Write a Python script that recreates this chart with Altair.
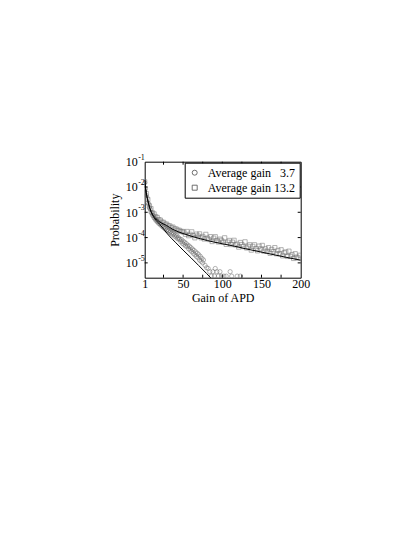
import altair as alt
import pandas as pd

# ---------------- data ----------------
LAB_A = "Average gain \u20073.7"
LAB_B = "Average gain 13.2"

# measured points, average gain 13.2 (squares)
sq_gain = list(range(1, 200, 2))
sq_prob = [
    1.6e-2, 5.5e-3, 3.2e-3, 1.8e-3, 1.4e-3, 9.5e-4, 8.6e-4, 6.8e-4, 6.2e-4, 5.1e-4,
    4.9e-4, 4.1e-4, 4.0e-4, 3.4e-4, 3.4e-4, 2.9e-4, 2.9e-4, 2.5e-4, 2.6e-4, 2.2e-4,
    2.2e-4, 1.95e-4, 1.95e-4, 1.75e-4, 1.75e-4,
    1.63e-4, 1.35e-4, 1.74e-4, 1.19e-4, 1.35e-4, 1.69e-4, 1.2e-4, 9.8e-5, 1.37e-4, 1.15e-4,
    1.4e-4, 9.8e-5, 1.11e-4, 8.8e-5, 1.34e-4, 9.6e-5, 8.4e-5, 1.09e-4, 7.0e-5, 9.5e-5,
    1.08e-4, 7.7e-5, 6.7e-5, 8.7e-5, 7.8e-5, 6.5e-5, 9.8e-5, 5.4e-5, 6.6e-5, 7.7e-5,
    5.3e-5, 6.6e-5, 7.8e-5, 5.1e-5, 5.5e-5, 4.2e-5, 6.4e-5, 5.3e-5, 4.4e-5, 6.8e-5,
    3.9e-5, 4.5e-5, 5.2e-5, 3.2e-5, 4.5e-5, 5.2e-5, 3.7e-5, 3.0e-5, 4.6e-5, 3.6e-5,
    4.9e-5, 2.9e-5, 3.6e-5, 2.9e-5, 4.0e-5, 2.4e-5, 3.4e-5, 2.8e-5, 4.0e-5, 2.3e-5,
    3.1e-5, 2.3e-5, 3.3e-5, 1.9e-5, 2.5e-5, 2.7e-5, 1.8e-5, 2.9e-5, 1.8e-5, 2.1e-5,
    1.5e-5, 2.3e-5, 1.7e-5, 1.55e-5, 2.0e-5,
]

# measured points, average gain 3.7 (circles)
ci_gain = list(range(1, 77)) + [78, 80, 82, 84, 86, 88, 90, 91, 93, 95, 97, 99,
                                 102, 105, 110, 112, 119, 123]
ci_prob = [
    1.5e-2, 8.5e-3, 4.6e-3, 3.7e-3, 2.4e-3, 2.1e-3, 1.5e-3, 1.35e-3, 1.0e-3, 9.5e-4,
    7.6e-4, 7.3e-4, 6.0e-4, 5.9e-4, 4.9e-4, 5.0e-4, 4.2e-4, 4.3e-4, 3.6e-4, 3.7e-4,
    3.2e-4, 3.4e-4, 2.8e-4, 3.0e-4, 2.5e-4, 2.7e-4, 2.2e-4, 2.4e-4, 1.95e-4, 2.1e-4,
    1.8e-4, 1.9e-4, 1.6e-4, 1.75e-4, 1.45e-4, 1.6e-4, 1.3e-4, 1.45e-4, 1.15e-4, 1.3e-4,
    1.05e-4, 1.2e-4, 9.0e-5, 1.0e-4, 8.5e-5, 8.8e-5, 7.0e-5, 8.3e-5, 6.0e-5, 7.2e-5,
    5.4e-5, 6.5e-5, 4.7e-5, 5.8e-5, 4.4e-5, 5.0e-5, 3.6e-5, 4.6e-5, 3.2e-5, 4.0e-5,
    2.8e-5, 3.5e-5, 2.4e-5, 3.1e-5, 2.1e-5, 2.7e-5, 1.8e-5, 2.4e-5, 1.6e-5, 2.1e-5,
    1.3e-5, 1.8e-5, 1.15e-5, 1.5e-5, 1.0e-5, 1.3e-5,
    8.0e-6, 6.5e-6, 6.0e-6, 4.5e-6, 3.0e-6, 4.5e-6, 3.0e-6, 6.0e-6, 4.5e-6, 3.0e-6,
    4.5e-6, 3.0e-6, 3.0e-6, 3.0e-6, 4.5e-6, 3.0e-6, 3.0e-6, 3.0e-6,
]

# theoretical curves
up_gain = [1, 2, 3, 5, 7, 10, 14, 20, 29, 37, 50, 60, 72, 90, 115, 130, 157, 180, 200]
up_prob = [1.9e-2, 1.0e-2, 6.0e-3, 3.0e-3, 1.7e-3, 9.5e-4, 6.2e-4, 4.2e-4, 3.0e-4,
           2.1e-4, 1.45e-4, 1.15e-4, 9.0e-5, 6.6e-5, 4.6e-5, 3.6e-5, 2.4e-5, 1.7e-5, 1.28e-5]
lo_gain = [1, 2, 3, 5, 7, 10, 14, 20, 25, 30, 40, 50, 60, 70, 80, 88]
lo_prob = [1.9e-2, 1.0e-2, 5.8e-3, 2.8e-3, 1.6e-3, 9.0e-4, 5.5e-4, 3.4e-4, 2.2e-4,
           1.4e-4, 6.6e-5, 3.2e-5, 1.6e-5, 7.8e-6, 3.8e-6, 2.1e-6]

x_label_vals = [1, 50, 100, 150, 200]
x_tick_vals = [25, 50, 75, 100, 125, 150, 175]
y_label_vals = [1e-1, 1e-2, 1e-3, 1e-4, 1e-5]
y_tick_vals = [1e-2, 1e-3, 1e-4, 1e-5]
y_exponents = ["-1", "-2", "-3", "-4", "-5"]

# ---------------- chart ----------------
W, H = 156, 116
FONT = "Liberation Serif"

x_scale = alt.Scale(domain=[1, 200], nice=False, zero=False)
y_scale = alt.Scale(type="log", domain=[2.6e-6, 0.1], nice=False)
x_axis = alt.Axis(values=x_label_vals, title="Gain of APD", labelPadding=1, titlePadding=3,
                  labelFlush=False, labelOverlap=False)
y_axis = alt.Axis(values=y_label_vals, labelExpr="'10'", title="Probability",
                  labelPadding=7.4, titlePadding=4, labelFlush=False, labelOverlap=False)
X = alt.X("gain:Q", scale=x_scale, axis=x_axis)
Y = alt.Y("prob:Q", scale=y_scale, axis=y_axis)

pts = pd.DataFrame({
    "gain": ci_gain + sq_gain,
    "prob": ci_prob + sq_prob,
    "series": [LAB_A] * len(ci_gain) + [LAB_B] * len(sq_gain),
})
curves = pd.DataFrame({
    "gain": lo_gain + up_gain,
    "prob": lo_prob + up_prob,
    "curve": ["a"] * len(lo_gain) + ["b"] * len(up_gain),
})

points = alt.Chart(pts).mark_point(filled=False, size=18, strokeWidth=0.75,
                                   color="#707070", clip=True).encode(
    x=X, y=Y,
    shape=alt.Shape("series:N",
                    scale=alt.Scale(domain=[LAB_A, LAB_B], range=["circle", "square"]),
                    legend=alt.Legend(title=None, orient="top-right", offset=1,
                                      strokeColor="black", fillColor="white",
                                      padding=4, rowPadding=3, labelOffset=7,
                                      labelFont=FONT, labelFontSize=12, labelColor="black",
                                      symbolStrokeColor="black", symbolStrokeWidth=0.8,
                                      symbolSize=25, symbolFillColor="transparent")),
)

lines = alt.Chart(curves).mark_line(color="black", strokeWidth=1, clip=True,
                                    interpolate="monotone").encode(
    x=X, y=Y, detail="curve:N")

xt = pd.DataFrame({"gain": x_tick_vals})
yt = pd.DataFrame({"prob": y_tick_vals})
tick_b = alt.Chart(xt).mark_rule(color="black", strokeWidth=1).encode(
    x=X, y=alt.value(H), y2=alt.value(H - 3))
tick_t = alt.Chart(xt).mark_rule(color="black", strokeWidth=1).encode(
    x=X, y=alt.value(0), y2=alt.value(3))
tick_l = alt.Chart(yt).mark_rule(color="black", strokeWidth=1).encode(
    y=Y, x=alt.value(0), x2=alt.value(3))
tick_r = alt.Chart(yt).mark_rule(color="black", strokeWidth=1).encode(
    y=Y, x=alt.value(W), x2=alt.value(W - 3))

ex = pd.DataFrame({"prob": y_label_vals, "exp": y_exponents})
exps = alt.Chart(ex).mark_text(align="left", baseline="middle", dy=-4, font=FONT,
                               fontSize=8, color="black").encode(
    y=Y, x=alt.value(-6.5), text="exp:N")

chart = alt.layer(points, lines, tick_b, tick_t, tick_l, tick_r, exps).properties(
    width=W, height=H,
    autosize=alt.AutoSizeParams(type="none"),
    padding={"left": 136.7, "top": 153.7, "right": 30, "bottom": 80},
).configure_view(stroke="black", strokeWidth=1).configure_axis(
    labelFont=FONT, labelFontSize=12, labelColor="black",
    titleFont=FONT, titleFontSize=12, titleColor="black", titleFontWeight="normal",
    grid=False, domain=False, ticks=False, tickSize=0,
)

chart.save("out.html", embed_options={"renderer": "svg", "actions": False})
